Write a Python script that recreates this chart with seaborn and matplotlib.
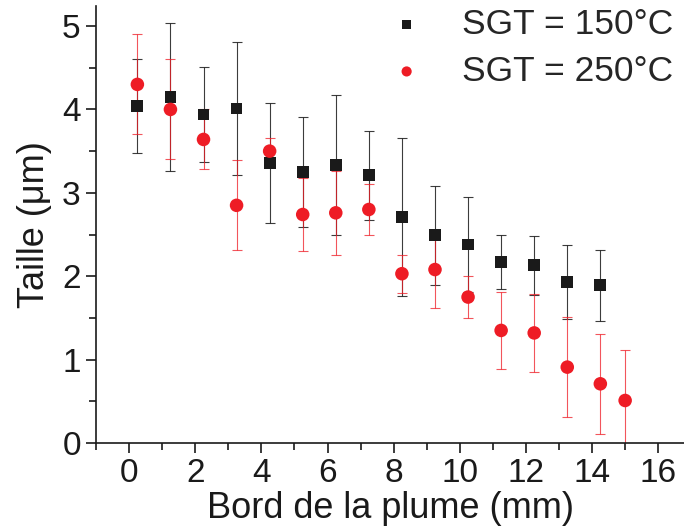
import numpy as np
import pandas as pd
import matplotlib
matplotlib.use("Agg")
import matplotlib.pyplot as plt
import seaborn as sns
from matplotlib.ticker import MultipleLocator

# --- data ---
x_150 = [0.25, 1.25, 2.25, 3.25, 4.25, 5.25, 6.25, 7.25, 8.25, 9.25, 10.25, 11.25, 12.25, 13.25, 14.25]
y_150 = [4.04, 4.15, 3.94, 4.01, 3.36, 3.25, 3.33, 3.21, 2.71, 2.49, 2.38, 2.17, 2.13, 1.93, 1.89]
err_150 = [0.56, 0.89, 0.57, 0.80, 0.72, 0.66, 0.84, 0.53, 0.95, 0.59, 0.57, 0.32, 0.35, 0.44, 0.43]

x_250 = [0.25, 1.25, 2.25, 3.25, 4.25, 5.25, 6.25, 7.25, 8.25, 9.25, 10.25, 11.25, 12.25, 13.25, 14.25, 15.0]
y_250 = [4.30, 4.00, 3.64, 2.85, 3.50, 2.74, 2.76, 2.80, 2.03, 2.08, 1.75, 1.35, 1.32, 0.91, 0.71, 0.51]
err_250 = [0.60, 0.60, 0.36, 0.54, 0.16, 0.44, 0.50, 0.31, 0.23, 0.46, 0.25, 0.46, 0.47, 0.60, 0.60, 0.60]

labels = ['SGT = 150°C', 'SGT = 250°C']
black = '#1a1a1a'
red = '#ee1c25'

df150 = pd.DataFrame({'x': x_150, 'y': y_150, 'err': err_150})
df250 = pd.DataFrame({'x': x_250, 'y': y_250, 'err': err_250})

sns.set_style('ticks')
plt.rcParams['font.family'] = ['Liberation Sans', 'DejaVu Sans']

fig = plt.figure(figsize=(6.84, 5.31), dpi=100)
ax = fig.add_axes([0.1404, 0.1657, 0.8596, 0.823])

# error bars first so markers sit on top
ax.errorbar(df150['x'], df150['y'], yerr=df150['err'], fmt='none',
            ecolor=black, elinewidth=0.8, capsize=3.8, capthick=0.8, alpha=0.85, zorder=2)
ax.errorbar(df250['x'], df250['y'], yerr=df250['err'], fmt='none',
            ecolor=red, elinewidth=0.8, capsize=3.8, capthick=0.8, alpha=0.75, zorder=2)

sns.scatterplot(data=df150, x='x', y='y', marker='s', s=72, color=black,
                edgecolor='none', label=labels[0], ax=ax, zorder=3)
sns.scatterplot(data=df250, x='x', y='y', marker='o', s=95, color=red,
                edgecolor='none', label=labels[1], ax=ax, zorder=4)

ax.set_xlim(-1, 16.78)
ax.set_ylim(0, 5.24)
ax.xaxis.set_major_locator(MultipleLocator(2))
ax.xaxis.set_minor_locator(MultipleLocator(1))
ax.yaxis.set_major_locator(MultipleLocator(1))
ax.yaxis.set_minor_locator(MultipleLocator(0.5))

for side in ['top', 'right']:
    ax.spines[side].set_visible(False)
for side in ['left', 'bottom']:
    ax.spines[side].set_linewidth(1.2)
    ax.spines[side].set_color(black)

ax.tick_params(which='major', direction='out', length=7, width=1.2, color=black,
               labelsize=24, labelcolor=black, pad=4)
ax.tick_params(which='minor', direction='out', length=5, width=1.2, color=black)

ax.set_xlabel('Bord de la plume (mm)', fontsize=26, color=black, labelpad=1)
ax.set_ylabel('Taille (μm)', fontsize=26, color=black, labelpad=7)

ax.legend(loc='upper right', bbox_to_anchor=(1.005, 1.028), frameon=False, fontsize=25.5,
          handlelength=1.6, handletextpad=0.75, labelspacing=0.39, markerscale=0.75,
          borderaxespad=0)

fig.savefig('out.png', dpi=100)
